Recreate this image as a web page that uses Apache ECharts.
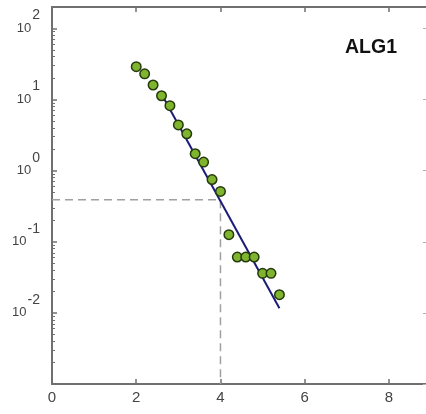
<!DOCTYPE html>
<html>
<head>
<meta charset="utf-8">
<script src="https://cdn.jsdelivr.net/npm/echarts@6/dist/echarts.min.js"></script>
<style>
  html, body { margin: 0; padding: 0; background: #fff; }
  #chart { width: 426px; height: 414px; }
</style>
</head>
<body>
<div id="chart"></div>
<script>
// ---- data ----
var xValues = [2.0, 2.2, 2.4, 2.6, 2.8, 3.0, 3.2, 3.4, 3.6, 3.8, 4.0, 4.2, 4.4, 4.6, 4.8, 5.0, 5.2, 5.4];
var yValues = [29, 23, 16, 11.3, 8.2, 4.4, 3.3, 1.73, 1.32, 0.75, 0.51, 0.126, 0.061, 0.061, 0.061, 0.036, 0.036, 0.018];
var fitX = [2.6, 5.4];
var fitY = [12, 0.0116];
var guideX = [0, 4, 4];
var guideY = [0.39, 0.39, 0.001];
var xTickLabels = [0, 2, 4, 6, 8];
var yTickLabels = [0.01, 0.1, 1, 10, 100];
var yMajorTicks = [0.001, 0.01, 0.1, 1, 10, 100];
var yMinorMultipliers = [2, 3, 4, 5, 6, 7, 8, 9];
var titleText = 'ALG1';

var yMinorTicks = [];
yMajorTicks.forEach(function (p) {
  yMinorMultipliers.forEach(function (m) {
    var v = +(p * m).toPrecision(3);
    if (v <= 200) yMinorTicks.push(v);
  });
});

var pts = xValues.map(function (x, i) { return [x, yValues[i]]; });
var fit = fitX.map(function (x, i) { return [x, fitY[i]]; });
var guide = guideX.map(function (x, i) { return [x, guideY[i]]; });

var FONT = "'Liberation Sans', Arial, sans-serif";
var AXC = '#707070';

function expLabel(v) {
  var e = Math.round(Math.log10(v));
  return '{b|10}{s|' + e + '}';
}

var chart = echarts.init(document.getElementById('chart'), null, { renderer: 'canvas' });
var logBase = {
  type: 'log', logBase: 10, min: 0.001, max: 200,
  splitLine: { show: false }, minorTick: { show: false }
};
chart.setOption({
  animation: false,
  backgroundColor: '#ffffff',
  grid: { left: 52, top: 7, bottom: 30, right: 0, containLabel: false },
  title: {
    text: titleText, left: 340, top: 33,
    textStyle: { fontFamily: FONT, fontSize: 19.5, fontWeight: 'bold', color: '#111' }
  },
  xAxis: [{
    type: 'value', min: 0, max: 8.88, interval: 2, position: 'bottom',
    axisLine: { show: true, lineStyle: { color: AXC, width: 2 } },
    axisTick: { show: true, inside: true, length: 5, customValues: [2, 4, 6, 8], lineStyle: { color: AXC, width: 1.5 } },
    axisLabel: { customValues: xTickLabels, margin: 6, fontFamily: FONT, fontSize: 15, color: '#444' },
    splitLine: { show: false }
  }, {
    type: 'value', min: 0, max: 8.88, interval: 2, position: 'top',
    axisLine: { show: true, lineStyle: { color: AXC, width: 2 } },
    axisTick: { show: true, inside: true, length: 5, customValues: [2, 4, 6, 8], lineStyle: { color: AXC, width: 1.5 } },
    axisLabel: { show: false },
    splitLine: { show: false }
  }],
  yAxis: [
    Object.assign({}, logBase, {
      position: 'left',
      axisLine: { show: true, lineStyle: { color: AXC, width: 2 } },
      axisTick: { show: true, inside: true, length: 5, customValues: yMajorTicks, lineStyle: { color: AXC, width: 1.5 } },
      axisLabel: {
        customValues: yTickLabels, margin: 12, formatter: expLabel,
        rich: {
          b: { fontFamily: FONT, fontSize: 13, color: '#444' },
          s: { fontFamily: FONT, fontSize: 14, color: '#444', padding: [0, 0, 26, 1] }
        }
      }
    }),
    Object.assign({}, logBase, {
      position: 'left',
      axisLine: { show: false },
      axisTick: { show: true, inside: true, length: 3, customValues: yMinorTicks, lineStyle: { color: AXC, width: 1 } },
      axisLabel: { show: false }
    }),
    Object.assign({}, logBase, {
      position: 'right',
      axisLine: { show: false },
      axisTick: { show: true, inside: true, length: 3, customValues: yMajorTicks, lineStyle: { color: '#b0b0b0', width: 1 } },
      axisLabel: { show: false }
    })
  ],
  series: [{
    type: 'line', data: guide, xAxisIndex: 0, yAxisIndex: 0,
    symbol: 'none', lineStyle: { color: '#a0a0a0', width: 1.5, type: [8, 5] }, z: 2
  }, {
    type: 'line', data: fit, xAxisIndex: 0, yAxisIndex: 0,
    symbol: 'none', lineStyle: { color: '#1c1c78', width: 2 }, z: 3
  }, {
    type: 'scatter', data: pts, xAxisIndex: 0, yAxisIndex: 0,
    symbol: 'circle', symbolSize: 9.5,
    itemStyle: { color: '#7fb52e', borderColor: '#263a0e', borderWidth: 1.5, opacity: 1 }, z: 4
  }]
});
</script>
</body>
</html>
